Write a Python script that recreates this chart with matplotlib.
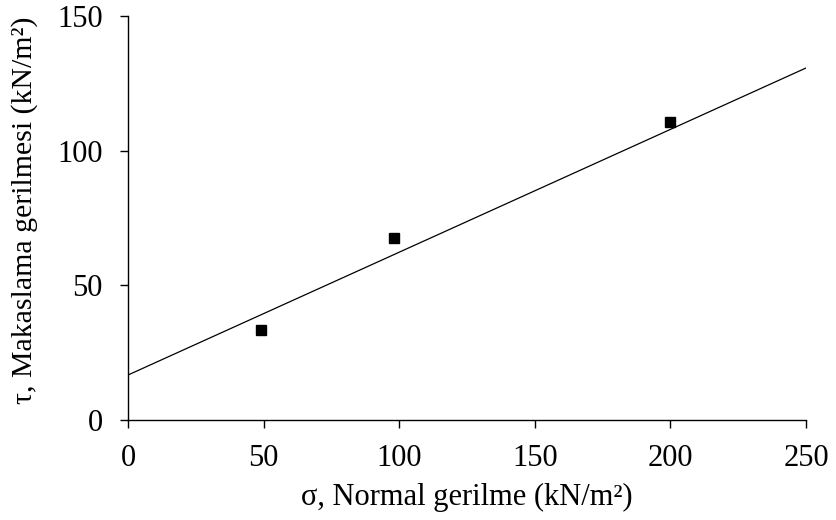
import matplotlib
matplotlib.use("Agg")
import matplotlib.pyplot as plt

## ----- DATA ------ ##

sigma = [49, 98, 200]          # normal stress, kN/m2
tau = [33.5, 67.5, 110.5]      # shear stress, kN/m2
fit_x = [0, 250]
fit_y = [16.7, 130.7]

x_ticks = [0, 50, 100, 150, 200, 250]
y_ticks = [0, 50, 100, 150]

## ----- PLOT ------ ##

plt.rcParams['font.family'] = ['Liberation Serif', 'DejaVu Serif']

fig = plt.figure(figsize=(8.36, 5.2), dpi=100)
ax = fig.add_axes([0.1531, 0.1923, 0.811, 0.7769])

ax.plot(fit_x, fit_y, color='black', linewidth=0.9)
ax.plot(sigma, tau, linestyle='none', marker='s', markersize=7.5,
        color='black')

ax.set_xlim(0, 250)
ax.set_ylim(0, 150)
ax.set_xticks(x_ticks)
ax.set_yticks(y_ticks)

for side in ['top', 'right']:
    ax.spines[side].set_visible(False)
for side in ['left', 'bottom']:
    ax.spines[side].set_linewidth(1.0)

ax.tick_params(direction='out', length=6, width=1.0, labelsize=22)
ax.tick_params(axis='x', pad=11)
ax.tick_params(axis='y', pad=12)

ax.set_xlabel('σ, Normal gerilme (kN/m²)', fontsize=22)
ax.set_ylabel('τ, Makaslama gerilmesi (kN/m²)', fontsize=21.5)
ax.xaxis.set_label_coords(0.5, -0.155)
ax.yaxis.set_label_coords(-0.132, 0.52)

fig.savefig('out.png', dpi=100)
